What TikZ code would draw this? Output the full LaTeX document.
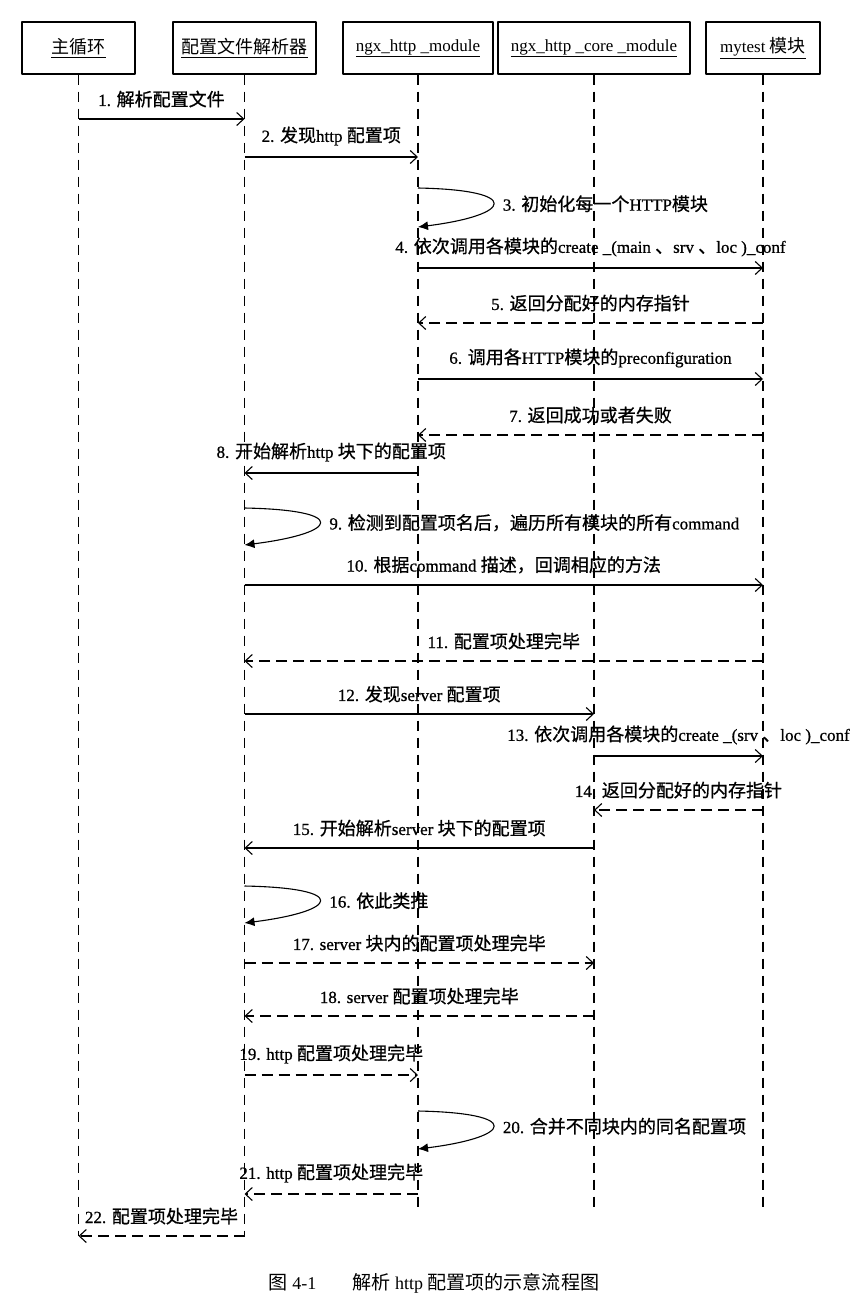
\documentclass[tikz,border=0pt]{standalone}
\usepackage{fontspec}
\setmainfont{Liberation Serif}
\newfontfamily\labfont[FakeBold=0.8]{Liberation Serif}
\newfontfamily\zhfont[Scale=1.06,FakeBold=0.8]{Noto Sans CJK SC}
\newfontfamily\zhplain[Scale=1.06]{Noto Sans CJK SC}
\newcommand{\zh}[1]{{\zhfont #1}}
\newcommand{\zhp}[1]{{\zhplain #1}}
\usetikzlibrary{arrows.meta}

\begin{document}
\begin{tikzpicture}[x=1pt,y=-1pt,line join=round,>={Straight Barb[length=7pt,width=13pt]},
		font=\fontsize{17}{20}\selectfont]
			\tikzset{hdr/.style={draw,line width=1.4pt,minimum height=52pt,inner sep=2pt},
				life/.style={line width=1.1pt,dash pattern=on 10pt off 7pt},
				msg/.style={->,line width=1.1pt},
				ret/.style={->,line width=1.1pt,dash pattern=on 11pt off 6pt},
				self/.style={-{Latex[length=10pt,width=9pt]},line width=1.1pt},
				lab/.style={above=9pt,inner sep=2pt,font=\fontsize{17}{20}\labfont}}
			\useasboundingbox (0,0) rectangle (862,1312);
			% Vẽ các hộp đối tượng
			\node[hdr,minimum width=113pt] (main) at (78.5,48) {\underline{\zhp{主循环}}};
			\node[hdr,minimum width=143pt] (parser) at (244.5,48) {\underline{\zhp{配置文件解析器}}};
			\node[hdr,minimum width=150pt] (http) at (418,48) {\underline{ngx\_http \_module}};
			\node[hdr,minimum width=192pt] (core) at (594,48) {\underline{ngx\_http \_core \_module}};
			\node[hdr,minimum width=114pt] (mytest) at (763,48) {\underline{mytest \zhp{模块}}};
			% Vẽ các đường sống (nét đứt)
			\foreach \o/\yend in {main/1236,parser/1236,http/1207,core/1207,mytest/1207}
				\draw[life] (\o.south) -- (\o |- 0,\yend);
			% Vẽ các thông điệp giữa các đối tượng
			\foreach \py/\src/\dst/\sty/\txt in {
				119/main/parser/msg/{1. \zh{解析配置文件}},
				157/parser/http/msg/{2. \zh{发现}http \zh{配置项}},
				268/http/mytest/msg/{4. \zh{依次调用各模块的}create \_(main \zh{、}srv \zh{、}loc )\_conf},
				323/mytest/http/ret/{5. \zh{返回分配好的内存指针}},
				379/http/mytest/msg/{6. \zh{调用各}HTTP\zh{模块的}preconfiguration},
				435/mytest/http/ret/{7. \zh{返回成功或者失败}},
				473/http/parser/msg/{8. \zh{开始解析}http \zh{块下的配置项}},
				585/parser/mytest/msg/{10. \zh{根据}command \zh{描述，回调相应的方法}},
				661/mytest/parser/ret/{11. \zh{配置项处理完毕}},
				714/parser/core/msg/{12. \zh{发现}server \zh{配置项}},
				756/core/mytest/msg/{13. \zh{依次调用各模块的}create \_(srv \zh{、}loc )\_conf},
				810/mytest/core/ret/{14. \zh{返回分配好的内存指针}},
				848/core/parser/msg/{15. \zh{开始解析}server \zh{块下的配置项}},
				963/parser/core/ret/{17. server \zh{块内的配置项处理完毕}},
				1016/core/parser/ret/{18. server \zh{配置项处理完毕}},
				1075/parser/http/ret/{19. http \zh{配置项处理完毕}},
				1194/http/parser/ret/{21. http \zh{配置项处理完毕}},
				1236/parser/main/ret/{22. \zh{配置项处理完毕}}
			}{
				\draw[\sty] (\src |- 0,\py) -- (\dst |- 0,\py) node[lab,midway] {\txt};
			}
			% Vẽ các vòng tự gọi
			\foreach \o/\ya/\yb/\txt in {
				http/188/227/{3. \zh{初始化每一个}HTTP\zh{模块}},
				parser/508/545/{9. \zh{检测到配置项名后，遍历所有模块的所有}command},
				parser/886/923/{16. \zh{依此类推}},
				http/1111/1149/{20. \zh{合并不同块内的同名配置项}}
			}{
				\draw[self] (\o |- 0,\ya) .. controls +(105,2) and +(95,-12) .. (\o |- 0,\yb)
					node[pos=.5,right=6pt,font=\fontsize{17}{20}\labfont] {\txt};
			}
			% Chú thích hình
			\node[font=\fontsize{18}{21}\selectfont] (caption) at (434,1283)
				{\zhp{图} 4-1\qquad\zhp{解析} http \zhp{配置项的示意流程图}};
		\end{tikzpicture}
\end{document}
